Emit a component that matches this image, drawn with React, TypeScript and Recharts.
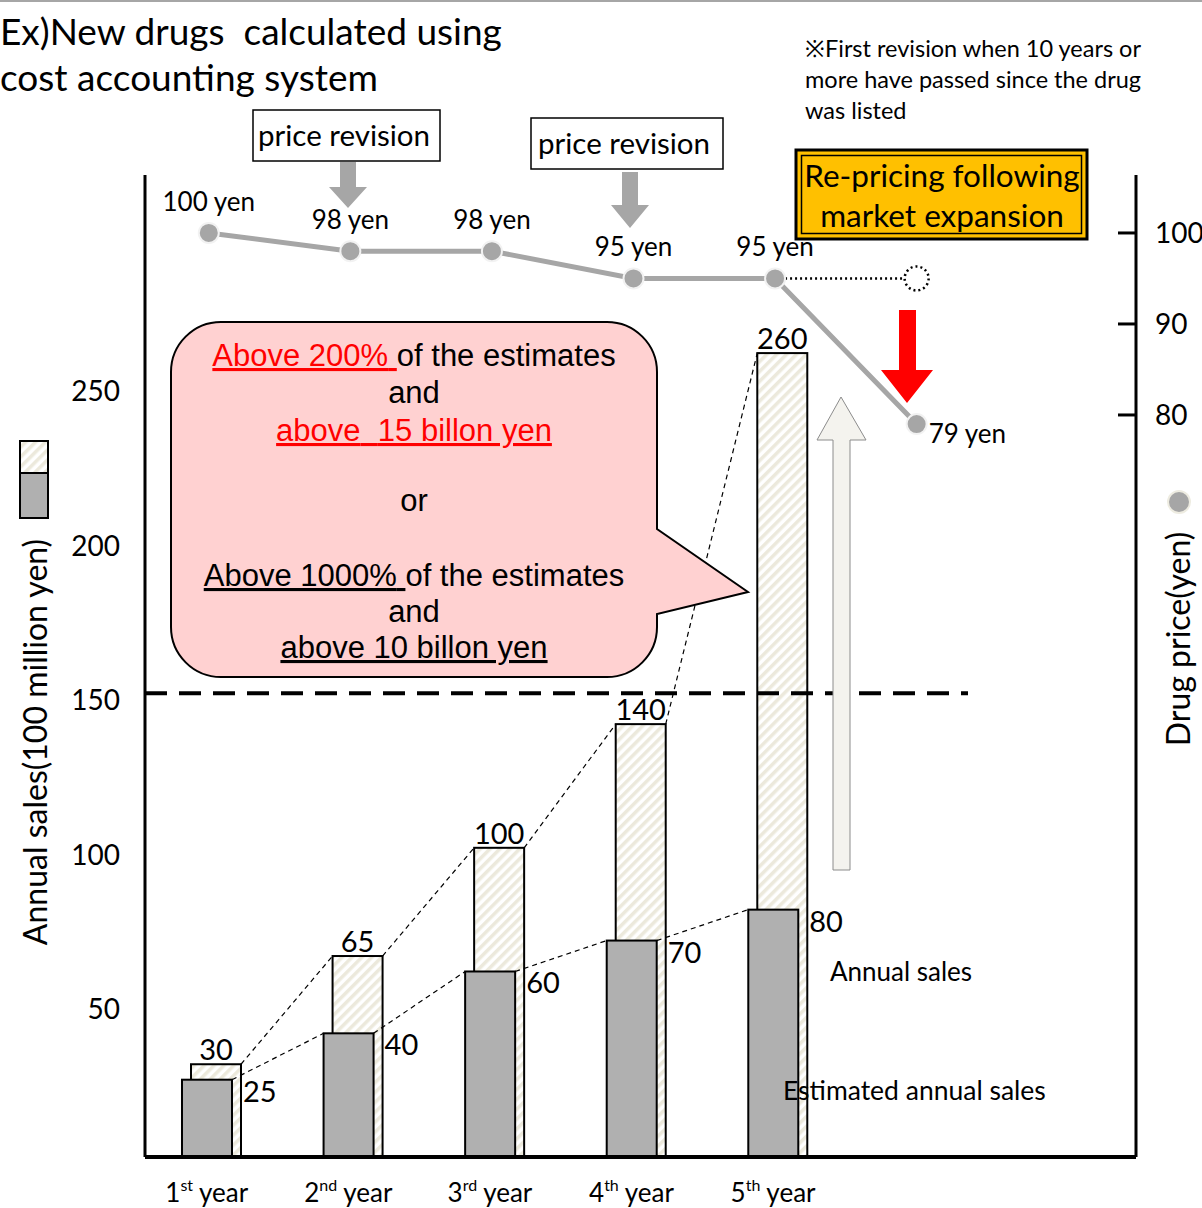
import React from 'react'
import {
  ComposedChart, Bar, Line, XAxis, YAxis, CartesianGrid, ReferenceLine, LabelList,
} from 'recharts'

const YEARS = ['1st', '2nd', '3rd', '4th', '5th']
const ANNUAL_SALES = [30, 65, 100, 140, 260]
const ESTIMATED_SALES = [25, 40, 60, 70, 80]
// price per year, last one is the price after the market-expansion re-pricing
const PRICE = [100, 98, 98, 95, 95, 79]
// price that would have stayed without the re-pricing
const UNREVISED = [null, null, null, null, 95, 95]
const SALES_TICKS = [50, 100, 150, 200, 250]
const PRICE_TICKS = [80, 90, 100]
const THRESHOLD = 150

const W = 1202
const H = 1208
const PLOT_L = 145
const PLOT_R = 1136
const PLOT_T = 175
const PLOT_B = 1157
const GRID_END = 968
const SLOTS = 7
const STEP = (PLOT_R - PLOT_L) / SLOTS
const GRAY_SHIFT = -9
const FONT = 'Lato, "Open Sans", sans-serif'
const ARIAL = '"Liberation Sans", Arial, sans-serif'
const GRAY = '#B0B0B0'
const PRICE_GRAY = '#A6A6A6'
const STRIPE = '#ECE9DC'

const data = Array.from({ length: SLOTS }, (_, i) => ({
  slot: YEARS[i] ?? `slot${i}`,
  annual: ANNUAL_SALES[i] ?? null,
  estimated: ESTIMATED_SALES[i] ?? null,
  price: PRICE[i] ?? null,
  unrevised: UNREVISED[i] ?? null,
}))

function Hatch({ id }: { id: string }) {
  return (
    <pattern id={id} patternUnits="userSpaceOnUse" width={7} height={7} patternTransform="rotate(45)">
      <rect width={7} height={7} fill="#fff" />
      <rect width={3.5} height={7} fill={STRIPE} />
    </pattern>
  )
}

function AnnualBar(props: any) {
  const { x, y, width, height, index } = props
  const v = data[index]?.annual
  if (v == null || !height) return null
  const unit = height / v
  const next = data[index + 1]?.annual
  return (
    <g>
      <defs><Hatch id={`hatch-${index}`} /></defs>
      <rect x={x} y={y} width={width} height={height} fill={`url(#hatch-${index})`} stroke="#000" strokeWidth={2} />
      {next != null && (
        <line x1={x + width} y1={y} x2={x + STEP} y2={y + height - next * unit}
          stroke="#000" strokeWidth={1.2} strokeDasharray="5 4" />
      )}
    </g>
  )
}

function EstimatedBar(props: any) {
  const { x, y, width, height, index } = props
  const v = data[index]?.estimated
  if (v == null || !height) return null
  const unit = height / v
  const next = data[index + 1]?.estimated
  const gx = x + GRAY_SHIFT
  return (
    <g>
      <rect x={gx} y={y} width={width} height={height} fill={GRAY} stroke="#000" strokeWidth={2} />
      {next != null && (
        <line x1={gx + width} y1={y} x2={gx + STEP} y2={y + height - next * unit}
          stroke="#000" strokeWidth={1.2} strokeDasharray="5 4" />
      )}
    </g>
  )
}

const EstimatedLabel = (p: any) => {
  const { x, y, width, value } = p
  if (value == null) return null
  return (
    <text x={x + width + 2} y={y + 22} fontSize={29} fontFamily={FONT} fill="#000">{value}</text>
  )
}

const PriceLabel = (p: any) => {
  const { x, y, value, index } = p
  if (value == null) return null
  if (index === PRICE.length - 1) {
    return <text x={x + 12} y={y + 19} fontSize={26} fontFamily={FONT} fill="#000">{value} yen</text>
  }
  return <text x={x} y={y - 22} fontSize={26} fontFamily={FONT} fill="#000" textAnchor="middle">{value} yen</text>
}

const SUFFIX: Record<string, string> = { '1st': 'st', '2nd': 'nd', '3rd': 'rd', '4th': 'th', '5th': 'th' }

const YearTick = (p: any) => {
  const { x, y, payload } = p
  const name: string = payload.value
  if (!YEARS.includes(name)) return <g />
  return (
    <text x={x + GRAY_SHIFT} y={y + 43} textAnchor="middle" fontSize={26} fontFamily={FONT} fill="#000">
      <tspan>{name.slice(0, 1)}</tspan>
      <tspan fontSize={16} dy={-11}>{SUFFIX[name]}</tspan>
      <tspan dy={11}>{'\u00a0year'}</tspan>
    </text>
  )
}

const SalesTick = (p: any) => {
  const { x, y, payload } = p
  return <text x={x} y={y + 17} textAnchor="end" fontSize={28} fontFamily={FONT} fill="#000">{payload.value}</text>
}

const PriceTick = (p: any) => {
  const { x, y, payload } = p
  return (
    <g>
      <line x1={x - 18} y1={y} x2={x} y2={y} stroke="#000" strokeWidth={3} />
      <text x={x + 19} y={y + 10} fontSize={28} fontFamily={FONT} fill="#000">{payload.value}</text>
    </g>
  )
}

const UnrevisedDot = (p: any) => {
  const { cx, cy, index } = p
  if (index !== UNREVISED.length - 1 || cx == null) return <g key={`ud-${index}`} />
  return (
    <circle key={`ud-${index}`} cx={cx} cy={cy} r={12} fill="#fff" stroke="#000" strokeWidth={2.5} strokeDasharray="2 3" />
  )
}

function Annotations() {
  const t = { fontFamily: FONT, fill: '#000' }
  const red = { fill: '#FF0000', textDecoration: 'underline' }
  const ul = { textDecoration: 'underline' }
  return (
    <svg width={W} height={H} style={{ position: 'absolute', left: 0, top: 0, pointerEvents: 'none' }}>
      <defs><Hatch id="legend-hatch" /></defs>
      <line x1={0} y1={1} x2={W} y2={1} stroke="#A6A6A6" strokeWidth={2} />

      <text x={0} y={45} fontSize={37} {...t}>Ex)New drugs{'\u00a0\u00a0'}calculated using</text>
      <text x={0} y={91} fontSize={37} {...t}>cost accounting system</text>

      <text x={805} y={57} fontSize={23.5} {...t}>※First revision when 10 years or</text>
      <text x={805} y={88} fontSize={23.5} {...t}>more have passed since the drug</text>
      <text x={805} y={119} fontSize={23.5} {...t}>was listed</text>

      <rect x={253} y={110} width={187} height={51} fill="#fff" stroke="#000" strokeWidth={1.5} />
      <text x={344} y={146} textAnchor="middle" fontSize={29.5} {...t}>price revision</text>
      <polygon points="340,162 356,162 356,187 367,187 348,208 329,187 340,187" fill={PRICE_GRAY} />
      <rect x={531} y={118} width={192} height={51} fill="#fff" stroke="#000" strokeWidth={1.5} />
      <text x={624} y={154} textAnchor="middle" fontSize={29.5} {...t}>price revision</text>
      <polygon points="622,172 638,172 638,205 649,205 630,228 611,205 622,205" fill={PRICE_GRAY} />

      <rect x={796} y={150} width={291} height={89} fill="#FFC000" stroke="#000" strokeWidth={3} />
      <rect x={801.5} y={155.5} width={280} height={78} fill="none" stroke="#000" strokeWidth={1.5} />
      <text x={942} y={187} textAnchor="middle" fontSize={31.5} {...t}>Re-pricing following</text>
      <text x={942} y={227} textAnchor="middle" fontSize={31.5} {...t}>market expansion</text>

      <path
        d="M 221 322 H 607 A 50 50 0 0 1 657 372 V 529 L 748 592 L 657 614 V 627 A 50 50 0 0 1 607 677 H 221 A 50 50 0 0 1 171 627 V 372 A 50 50 0 0 1 221 322 Z"
        fill="#FFD1D1" stroke="#000" strokeWidth={2} />
      <g fontFamily={ARIAL} fontSize={31} fill="#000" textAnchor="middle">
        <text x={414} y={366}><tspan style={red}>Above 200%{'\u00a0'}</tspan><tspan>of the estimates</tspan></text>
        <text x={414} y={403}>and</text>
        <text x={414} y={441}><tspan style={red}>above{'\u00a0\u00a0'}15 billon yen</tspan></text>
        <text x={414} y={511}>or</text>
        <text x={414} y={586}><tspan style={ul}>Above 1000%{'\u00a0'}</tspan><tspan>of the estimates</tspan></text>
        <text x={414} y={622}>and</text>
        <text x={414} y={658}><tspan style={ul}>above 10 billon yen</tspan></text>
      </g>

      <polygon points="833,870 850,870 850,440 866,440 841,397 817,440 833,440" fill="#F4F3EE" stroke="#8C8C8C" strokeWidth={1} />
      <polygon points="899,310 916,310 916,370 933,370 907,403 881,370 899,370" fill="#FF0000" />

      <text x={830} y={981} fontSize={26} {...t}>Annual sales</text>
      <text x={783} y={1100} fontSize={26.5} {...t}>Estimated annual sales</text>

      <rect x={20} y={441} width={28} height={32} fill="url(#legend-hatch)" stroke="#000" strokeWidth={2} />
      <rect x={20} y={473} width={28} height={45} fill={GRAY} stroke="#000" strokeWidth={2} />
      <text x={36} y={753} transform="rotate(-90 36 742)" textAnchor="middle" fontSize={32} {...t}>
        Annual sales(100 million yen)
      </text>

      <circle cx={1179} cy={502} r={11} fill={PRICE_GRAY} stroke="#EEECE1" strokeWidth={2} />
      <text x={1183} y={646} transform="rotate(-90 1183 639)" textAnchor="middle" fontSize={32} {...t}>
        Drug price(yen)
      </text>
    </svg>
  )
}

export default function App() {
  return (
    <div style={{ position: 'absolute', left: 0, top: 0, width: W, height: H, background: '#fff', fontFamily: FONT }}>
      <ComposedChart
        width={W}
        height={H}
        data={data}
        margin={{ top: PLOT_T, right: W - PLOT_R - 60, bottom: H - PLOT_B - 40, left: PLOT_L - 60 }}
        barSize={50}
        barGap={-50}
      >
        <CartesianGrid
          vertical={false}
          stroke="#000"
          strokeWidth={1.2}
          x={PLOT_L}
          width={GRID_END - PLOT_L}
          horizontalCoordinatesGenerator={({ yAxis }: any) =>
            typeof yAxis?.scale === 'function'
              ? SALES_TICKS.filter((v) => v !== THRESHOLD).map((v) => yAxis.scale(v))
              : []
          }
        />
        <XAxis
          dataKey="slot"
          interval={0}
          height={40}
          tickLine={false}
          tickSize={0}
          tick={<YearTick />}
          axisLine={{ stroke: '#000', strokeWidth: 4 }}
        />
        <XAxis xAxisId="price" dataKey="slot" hide padding={{ left: -7, right: 7 }} />
        <YAxis
          width={60}
          domain={[0, 317.6]}
          ticks={SALES_TICKS}
          allowDataOverflow
          tickLine={false}
          tickSize={0}
          tickMargin={25}
          tick={<SalesTick />}
          axisLine={{ stroke: '#000', strokeWidth: 3 }}
        />
        <YAxis
          yAxisId="price"
          orientation="right"
          width={60}
          domain={[-1.54, 106.37]}
          ticks={PRICE_TICKS}
          allowDataOverflow
          tickLine={false}
          tickSize={0}
          tickMargin={0}
          tick={<PriceTick />}
          axisLine={{ stroke: '#000', strokeWidth: 3 }}
        />
        <Bar dataKey="annual" name="Annual sales" shape={<AnnualBar />} isAnimationActive={false}>
          <LabelList dataKey="annual" position="top" offset={4} fontSize={29} fontFamily={FONT} fill="#000" />
        </Bar>
        <Bar dataKey="estimated" name="Estimated annual sales" shape={<EstimatedBar />} isAnimationActive={false}>
          <LabelList dataKey="estimated" content={<EstimatedLabel />} />
        </Bar>
        <ReferenceLine
          y={THRESHOLD}
          stroke="#000"
          strokeWidth={4}
          strokeDasharray="22 12"
          shape={(p: any) => (
            <line x1={p.x1} y1={p.y1} x2={GRID_END} y2={p.y2} stroke="#000" strokeWidth={4} strokeDasharray="22 12" />
          )}
        />
        <Line
          xAxisId="price"
          yAxisId="price"
          dataKey="unrevised"
          stroke="#000"
          strokeWidth={2.5}
          strokeDasharray="2 3"
          dot={UnrevisedDot}
          activeDot={false}
          isAnimationActive={false}
        />
        <Line
          xAxisId="price"
          yAxisId="price"
          dataKey="price"
          stroke={PRICE_GRAY}
          strokeWidth={5}
          dot={{ r: 10, fill: PRICE_GRAY, stroke: '#F2F2F2', strokeWidth: 2 }}
          activeDot={false}
          isAnimationActive={false}
        >
          <LabelList dataKey="price" content={<PriceLabel />} />
        </Line>
      </ComposedChart>
      <Annotations />
    </div>
  )
}
